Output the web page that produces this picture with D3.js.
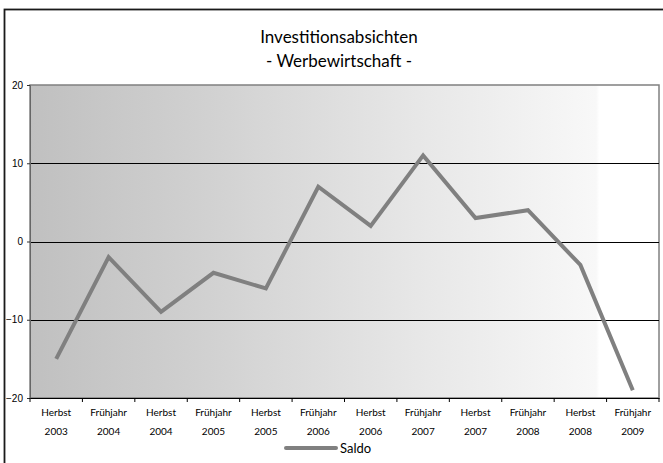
<!DOCTYPE html>
<html><head><meta charset="utf-8">
<script src="https://cdn.jsdelivr.net/npm/d3@7"></script>
<style>
body{margin:0;background:#fff;}
svg{display:block;font-family:Lato,"Open Sans","DejaVu Sans Condensed",sans-serif;}
</style></head>
<body>
<script>
const titleLines = ["Investitionsabsichten", "- Werbewirtschaft -"];
const categories = ["Herbst 2003","Frühjahr 2004","Herbst 2004","Frühjahr 2005","Herbst 2005","Frühjahr 2006","Herbst 2006","Frühjahr 2007","Herbst 2007","Frühjahr 2008","Herbst 2008","Frühjahr 2009"];
const saldo = [-15, -2, -9, -4, -6, 7, 2, 11, 3, 4, -3, -19];
const yTicks = [-20, -10, 0, 10, 20];
const seriesName = "Saldo";

const W = 663, H = 463;
const svg = d3.select("body").append("svg").attr("width", W).attr("height", H);

// outer frame (extends beyond right/bottom)
svg.append("rect").attr("x", 4.5).attr("y", 9.5).attr("width", 700).attr("height", 500)
  .attr("fill", "#fff").attr("stroke", "#1a1a1a").attr("stroke-width", 1.8);

const plot = {left: 30, right: 659, top: 85, bottom: 398};
const x = d3.scaleBand().domain(categories.map((d,i)=>i)).range([plot.left, plot.right]).padding(0);
const y = d3.scaleLinear().domain([-20, 20]).range([plot.bottom, plot.top]);

const defs = svg.append("defs");
const grad = defs.append("linearGradient").attr("id","bg").attr("x1","0").attr("x2","1").attr("y1","0").attr("y2","0");
[[0,"#c0c0c0"],[0.3,"#d2d2d2"],[0.6,"#e6e6e6"],[0.9,"#f8f8f8"],[0.905,"#ffffff"],[1,"#ffffff"]].forEach(([o,c])=>
  grad.append("stop").attr("offset", o).attr("stop-color", c));

svg.append("rect").attr("x", plot.left).attr("y", plot.top)
  .attr("width", plot.right - plot.left).attr("height", plot.bottom - plot.top)
  .attr("fill", "url(#bg)").attr("stroke", "#808080").attr("stroke-width", 1.5);

// gridlines
svg.append("g").selectAll("line").data(yTicks.filter(d => d > -20 && d < 20)).join("line")
  .attr("x1", plot.left).attr("x2", plot.right)
  .attr("y1", d => Math.round(y(d)) + 0.5).attr("y2", d => Math.round(y(d)) + 0.5)
  .attr("stroke", "#000").attr("stroke-width", 1);

// y axis
const yAxis = svg.append("g").attr("transform", `translate(${plot.left},0)`)
  .call(d3.axisLeft(y).tickValues(yTicks).tickSize(3).tickPadding(4).tickFormat(d3.format("d")));
yAxis.select(".domain").attr("stroke", "#666");
yAxis.selectAll(".tick line").attr("stroke", "#333");
yAxis.selectAll("text").attr("font-size", 10).attr("fill", "#000")
  .attr("font-family", "'Liberation Sans','DejaVu Sans',sans-serif");

// x axis
const xAxis = svg.append("g").attr("transform", `translate(0,${plot.bottom})`)
  .call(d3.axisBottom(x).tickSize(0).tickFormat(""));
xAxis.select(".domain").attr("stroke", "#000").attr("stroke-width", 1.2);
svg.append("g").selectAll("line").data(d3.range(categories.length + 1)).join("line")
  .attr("x1", i => i < categories.length ? x(i) : plot.right)
  .attr("x2", i => i < categories.length ? x(i) : plot.right)
  .attr("y1", plot.bottom).attr("y2", plot.bottom + 4).attr("stroke", "#000");
const xl = svg.append("g").selectAll("text").data(categories).join("text")
  .attr("x", (d,i) => x(i) + x.bandwidth()/2)
  .attr("text-anchor", "middle").attr("font-size", 10).attr("fill", "#000");
xl.append("tspan").attr("x", (d,i) => x(i) + x.bandwidth()/2).attr("y", 416).text(d => d.split(" ")[0]);
xl.append("tspan").attr("x", (d,i) => x(i) + x.bandwidth()/2).attr("y", 435).text(d => d.split(" ")[1]);

// series line
const line = d3.line().x((d,i) => x(i) + x.bandwidth()/2).y(d => y(d));
svg.append("path").datum(saldo).attr("d", line)
  .attr("fill", "none").attr("stroke", "#808080").attr("stroke-width", 4)
  .attr("stroke-linejoin", "miter");

// title
svg.append("g").selectAll("text").data(titleLines).join("text")
  .attr("x", 339).attr("y", (d,i) => 43 + i*24)
  .attr("text-anchor", "middle").attr("font-size", 17).attr("fill", "#000").text(d => d);

// legend
svg.append("line").attr("x1", 286).attr("x2", 336).attr("y1", 448).attr("y2", 448)
  .attr("stroke", "#808080").attr("stroke-width", 4).attr("stroke-linecap", "round");
svg.append("text").attr("x", 340).attr("y", 453).attr("font-size", 13).attr("fill", "#000").text(seriesName);
</script>
</body></html>
